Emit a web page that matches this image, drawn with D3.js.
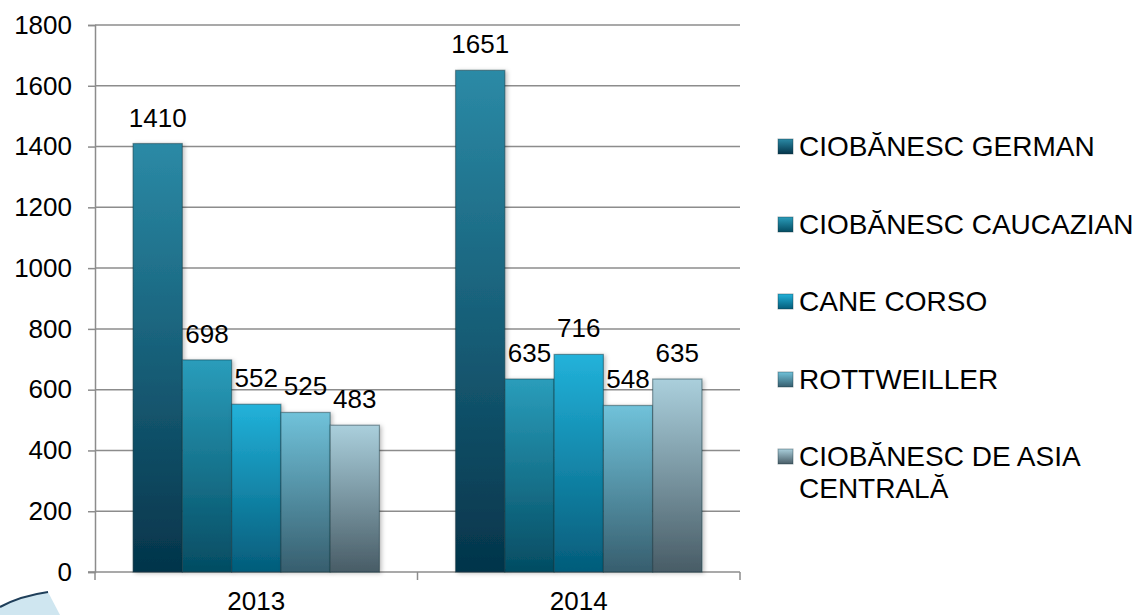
<!DOCTYPE html>
<html><head><meta charset="utf-8">
<script src="https://cdn.jsdelivr.net/npm/d3@7"></script>
<style>body{margin:0;background:#fff;}svg{display:block;font-family:"Liberation Sans",Arial,sans-serif;}</style>
</head><body>
<svg id="c" width="1135" height="615"></svg>
<script>
const years = ["2013", "2014"];
const breeds = ["CIOBĂNESC GERMAN", "CIOBĂNESC CAUCAZIAN", "CANE CORSO", "ROTTWEILLER", "CIOBĂNESC DE ASIA CENTRALĂ"];
const values2013 = [1410, 698, 552, 525, 483];
const values2014 = [1651, 635, 716, 548, 635];
const yTicks = [0, 200, 400, 600, 800, 1000, 1200, 1400, 1600, 1800];
const topColors = ["#2b8aa6", "#2a9dbb", "#22b2da", "#70c2da", "#aacfdc"];
const bottomColors = ["#04344a", "#044c62", "#045c7a", "#375e6e", "#485c66"];

const FONT = "Liberation Sans, Arial, sans-serif";
const svg = d3.select("#c");
const m = {l: 95, r: 740, t: 25, b: 572};
const x0 = d3.scaleBand().domain(years).range([m.l, m.r]).paddingInner(0.236).paddingOuter(0.118);
const x1 = d3.scaleBand().domain(breeds).range([0, x0.bandwidth()]);
const y = d3.scaleLinear().domain([0, 1800]).range([m.b, m.t]);

const defs = svg.append("defs");
breeds.forEach((b, i) => {
  const g = defs.append("linearGradient").attr("id", "g" + i).attr("x1", 0).attr("y1", 0).attr("x2", 0).attr("y2", 1);
  g.append("stop").attr("offset", "0%").attr("stop-color", topColors[i]);
  g.append("stop").attr("offset", "100%").attr("stop-color", bottomColors[i]);
});
const f = defs.append("filter").attr("id", "sh").attr("x", "-20%").attr("y", "-20%").attr("width", "140%").attr("height", "140%");
f.append("feDropShadow").attr("dx", 2).attr("dy", 1).attr("stdDeviation", 2).attr("flood-color", "#000").attr("flood-opacity", 0.25);

// gridlines
svg.append("g").selectAll("line").data(yTicks.slice(1)).join("line")
  .attr("x1", m.l).attr("x2", m.r).attr("y1", d => y(d)).attr("y2", d => y(d))
  .attr("stroke", "#8c8c8c").attr("stroke-width", 1.5);

// y axis
const ya = svg.append("g").attr("transform", `translate(${m.l},0)`)
  .call(d3.axisLeft(y).tickValues(yTicks).tickFormat(d3.format("d")).tickSize(7).tickPadding(16));
ya.attr("font-family", FONT).attr("font-size", 26);
ya.select(".domain").attr("stroke", "#8c8c8c").attr("stroke-width", 1.5);
ya.selectAll(".tick line").attr("stroke", "#8c8c8c").attr("stroke-width", 1.5);
ya.selectAll("text").attr("fill", "#000");

// x axis
const xa = svg.append("g").attr("transform", `translate(0,${m.b})`)
  .call(d3.axisBottom(x0).tickSize(0).tickPadding(0));
xa.attr("font-family", FONT).attr("font-size", 26);
xa.select(".domain").remove();
xa.selectAll("text").attr("fill", "#000").attr("dy", null).attr("y", 38);
const bounds = [m.l, (x0("2013") + x0.bandwidth() + x0("2014")) / 2, m.r];
svg.append("line").attr("x1", m.l - 7).attr("x2", m.r).attr("y1", m.b).attr("y2", m.b).attr("stroke", "#8c8c8c").attr("stroke-width", 1.5);
svg.append("g").selectAll("line").data(bounds).join("line")
  .attr("x1", d => d).attr("x2", d => d).attr("y1", m.b).attr("y2", m.b + 8)
  .attr("stroke", "#8c8c8c").attr("stroke-width", 1.5);

const data = [];
years.forEach((yr, yi) => {
  const vals = yi === 0 ? values2013 : values2014;
  breeds.forEach((b, i) => data.push({yr, b, i, v: vals[i]}));
});

svg.append("g").selectAll("rect").data(data).join("rect")
  .attr("x", d => x0(d.yr) + x1(d.b)).attr("y", d => y(d.v))
  .attr("width", x1.bandwidth()).attr("height", d => y(0) - y(d.v))
  .attr("fill", d => `url(#g${d.i})`)
  .attr("stroke", "rgba(20,50,60,0.45)").attr("stroke-width", 1.2)
  .attr("filter", "url(#sh)");

svg.append("g").attr("font-family", FONT).selectAll("text").data(data).join("text")
  .attr("x", d => x0(d.yr) + x1(d.b) + x1.bandwidth() / 2)
  .attr("y", d => y(d.v) - 17)
  .attr("text-anchor", "middle").attr("font-size", 26).attr("fill", "#000")
  .text(d => d.v);

// legend
const lg = svg.append("g").attr("font-family", FONT);
const rowsY = [146, 224, 301, 379, 456];
breeds.forEach((b, i) => {
  const g = lg.append("g").attr("transform", `translate(778,${rowsY[i]})`);
  g.append("rect").attr("x", 0).attr("y", -7).attr("width", 15).attr("height", 15)
    .attr("fill", `url(#g${i})`).attr("stroke", "rgba(20,50,60,0.4)");
  const t = g.append("text").attr("x", 21).attr("y", 10).attr("font-size", 28).attr("fill", "#000");
  if (i === 4) {
    t.append("tspan").attr("x", 21).text("CIOBĂNESC DE ASIA");
    t.append("tspan").attr("x", 21).attr("dy", 32).text("CENTRALĂ");
  } else t.text(b);
});

// decorative corner swoosh
svg.append("path").attr("d", "M0,607 Q20,596 48,592 L60,615 L0,615 Z").attr("fill", "#cfe6f0");
svg.append("path").attr("d", "M0,607 Q20,596 48,592").attr("fill", "none").attr("stroke", "#1f3f5a").attr("stroke-width", 2);
</script>
</body></html>
